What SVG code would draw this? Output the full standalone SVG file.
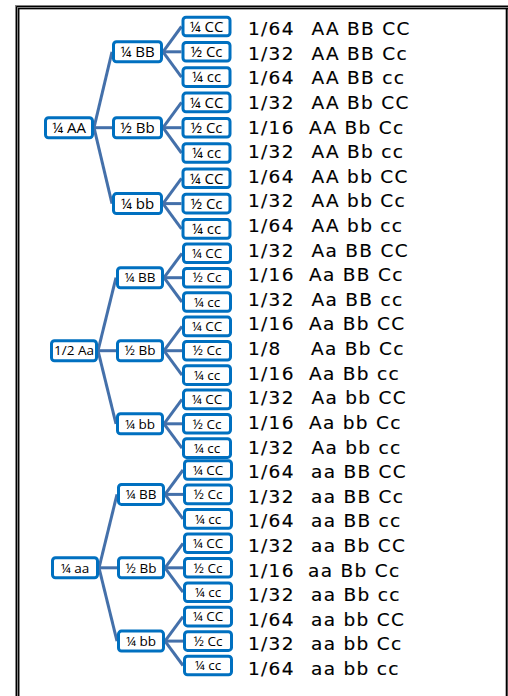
<svg xmlns="http://www.w3.org/2000/svg" width="508" height="696" viewBox="0 0 508 696">
<style>
.bx{fill:#fff;stroke:#0070c0;stroke-width:3}
.cn line{stroke:#4470aa;stroke-width:3;stroke-linecap:butt}
.la{font-family:"Open Sans","Lato",sans-serif;font-size:15px;fill:#000;text-anchor:middle}
.lb{font-family:"Open Sans","Lato",sans-serif;font-size:13.5px;fill:#000;text-anchor:middle}
.rt{font-family:"DejaVu Sans",sans-serif;font-size:18.5px;letter-spacing:1.3px;fill:#000;stroke:#000;stroke-width:0.15px}
</style>
<rect width="508" height="696" fill="#fff"/>
<g id="frame" fill="none">
<path d="M17.2,696 V7.2 H508" stroke="#808080" stroke-width="4.3"/>
<path d="M16.5,696 V6.5 H508" stroke="#000" stroke-width="1"/>
<path d="M18.7,696 V8.7 H508" stroke="#000" stroke-width="1.3"/>
<path d="M506.7,8 V696" stroke="#000" stroke-width="2"/>
</g>
<g id="connectors" class="cn">
<line x1="94" y1="127.7" x2="112" y2="51.8"/>
<line x1="94" y1="127.7" x2="112" y2="127.7"/>
<line x1="94" y1="127.7" x2="112" y2="203.6"/>
<line x1="163" y1="51.8" x2="181.5" y2="26.5"/>
<line x1="163" y1="51.8" x2="181.5" y2="51.8"/>
<line x1="163" y1="51.8" x2="181.5" y2="77.1"/>
<line x1="163" y1="127.7" x2="181.5" y2="102.4"/>
<line x1="163" y1="127.7" x2="181.5" y2="127.7"/>
<line x1="163" y1="127.7" x2="181.5" y2="153"/>
<line x1="163" y1="203.6" x2="181.5" y2="178.3"/>
<line x1="163" y1="203.6" x2="181.5" y2="203.6"/>
<line x1="163" y1="203.6" x2="181.5" y2="228.9"/>
<line x1="98" y1="350.7" x2="116" y2="277.7"/>
<line x1="98" y1="350.7" x2="116" y2="350.7"/>
<line x1="98" y1="350.7" x2="116" y2="423.8"/>
<line x1="164" y1="277.7" x2="182" y2="253.3"/>
<line x1="164" y1="277.7" x2="182" y2="277.7"/>
<line x1="164" y1="277.7" x2="182" y2="302"/>
<line x1="164" y1="350.7" x2="182" y2="326.4"/>
<line x1="164" y1="350.7" x2="182" y2="350.7"/>
<line x1="164" y1="350.7" x2="182" y2="375.1"/>
<line x1="164" y1="423.8" x2="182" y2="399.4"/>
<line x1="164" y1="423.8" x2="182" y2="423.8"/>
<line x1="164" y1="423.8" x2="182" y2="448.1"/>
<line x1="99" y1="567.8" x2="117" y2="494.4"/>
<line x1="99" y1="567.8" x2="117" y2="567.8"/>
<line x1="99" y1="567.8" x2="117" y2="641.1"/>
<line x1="165" y1="494.4" x2="183" y2="470"/>
<line x1="165" y1="494.4" x2="183" y2="494.4"/>
<line x1="165" y1="494.4" x2="183" y2="518.9"/>
<line x1="165" y1="567.8" x2="183" y2="543.3"/>
<line x1="165" y1="567.8" x2="183" y2="567.8"/>
<line x1="165" y1="567.8" x2="183" y2="592.2"/>
<line x1="165" y1="641.1" x2="183" y2="616.6"/>
<line x1="165" y1="641.1" x2="183" y2="641.1"/>
<line x1="165" y1="641.1" x2="183" y2="665.5"/>
</g>
<!-- Group AA -->
<g id="n-AA"><rect class="bx" x="45.5" y="117.7" width="47" height="20" rx="3"/><text class="la" x="69" y="132.9">¼ AA</text></g>
<g id="n-AA-BB"><rect class="bx" x="113.5" y="41.8" width="48" height="20" rx="3"/><text class="la" x="137.5" y="57">¼ BB</text></g>
<g id="n-AA-Bb"><rect class="bx" x="113.5" y="117.7" width="48" height="20" rx="3"/><text class="la" x="137.5" y="132.9">½ Bb</text></g>
<g id="n-AA-bb"><rect class="bx" x="113.5" y="193.6" width="48" height="20" rx="3"/><text class="la" x="137.5" y="208.8">¼ bb</text></g>
<g id="n-AA-BB-CC"><rect class="bx" x="183" y="17.2" width="47" height="18.6" rx="3"/><text class="la" x="206.5" y="31.7">¼ CC</text></g>
<g id="n-AA-BB-Cc"><rect class="bx" x="183" y="42.5" width="47" height="18.6" rx="3"/><text class="la" x="206.5" y="57">½ Cc</text></g>
<g id="n-AA-BB-cc"><rect class="bx" x="183" y="67.8" width="47" height="18.6" rx="3"/><text class="la" x="206.5" y="82.3">¼ cc</text></g>
<g id="n-AA-Bb-CC"><rect class="bx" x="183" y="93.1" width="47" height="18.6" rx="3"/><text class="la" x="206.5" y="107.6">¼ CC</text></g>
<g id="n-AA-Bb-Cc"><rect class="bx" x="183" y="118.4" width="47" height="18.6" rx="3"/><text class="la" x="206.5" y="132.9">½ Cc</text></g>
<g id="n-AA-Bb-cc"><rect class="bx" x="183" y="143.7" width="47" height="18.6" rx="3"/><text class="la" x="206.5" y="158.2">¼ cc</text></g>
<g id="n-AA-bb-CC"><rect class="bx" x="183" y="169" width="47" height="18.6" rx="3"/><text class="la" x="206.5" y="183.5">¼ CC</text></g>
<g id="n-AA-bb-Cc"><rect class="bx" x="183" y="194.3" width="47" height="18.6" rx="3"/><text class="la" x="206.5" y="208.8">½ Cc</text></g>
<g id="n-AA-bb-cc"><rect class="bx" x="183" y="219.6" width="47" height="18.6" rx="3"/><text class="la" x="206.5" y="234.1">¼ cc</text></g>
<!-- Group Aa -->
<g id="n-Aa"><rect class="bx" x="51.5" y="340.7" width="45" height="20" rx="3"/><text class="lb" x="74" y="355.4">1/2 Aa</text></g>
<g id="n-Aa-BB"><rect class="bx" x="117.5" y="267.7" width="45" height="20" rx="3"/><text class="lb" x="140" y="282.4">¼ BB</text></g>
<g id="n-Aa-Bb"><rect class="bx" x="117.5" y="340.7" width="45" height="20" rx="3"/><text class="lb" x="140" y="355.4">½ Bb</text></g>
<g id="n-Aa-bb"><rect class="bx" x="117.5" y="413.8" width="45" height="20" rx="3"/><text class="lb" x="140" y="428.5">¼ bb</text></g>
<g id="n-Aa-BB-CC"><rect class="bx" x="183.5" y="244" width="47" height="18.6" rx="3"/><text class="lb" x="207" y="258">¼ CC</text></g>
<g id="n-Aa-BB-Cc"><rect class="bx" x="183.5" y="268.4" width="47" height="18.6" rx="3"/><text class="lb" x="207" y="282.4">½ Cc</text></g>
<g id="n-Aa-BB-cc"><rect class="bx" x="183.5" y="292.7" width="47" height="18.6" rx="3"/><text class="lb" x="207" y="306.7">¼ cc</text></g>
<g id="n-Aa-Bb-CC"><rect class="bx" x="183.5" y="317.1" width="47" height="18.6" rx="3"/><text class="lb" x="207" y="331.1">¼ CC</text></g>
<g id="n-Aa-Bb-Cc"><rect class="bx" x="183.5" y="341.4" width="47" height="18.6" rx="3"/><text class="lb" x="207" y="355.4">½ Cc</text></g>
<g id="n-Aa-Bb-cc"><rect class="bx" x="183.5" y="365.8" width="47" height="18.6" rx="3"/><text class="lb" x="207" y="379.8">¼ cc</text></g>
<g id="n-Aa-bb-CC"><rect class="bx" x="183.5" y="390.1" width="47" height="18.6" rx="3"/><text class="lb" x="207" y="404.1">¼ CC</text></g>
<g id="n-Aa-bb-Cc"><rect class="bx" x="183.5" y="414.5" width="47" height="18.6" rx="3"/><text class="lb" x="207" y="428.5">½ Cc</text></g>
<g id="n-Aa-bb-cc"><rect class="bx" x="183.5" y="438.8" width="47" height="18.6" rx="3"/><text class="lb" x="207" y="452.8">¼ cc</text></g>
<!-- Group aa -->
<g id="n-aa"><rect class="bx" x="52.5" y="557.8" width="45" height="20" rx="3"/><text class="lb" x="75" y="572.5">¼ aa</text></g>
<g id="n-aa-BB"><rect class="bx" x="118.5" y="484.4" width="45" height="20" rx="3"/><text class="lb" x="141" y="499.1">¼ BB</text></g>
<g id="n-aa-Bb"><rect class="bx" x="118.5" y="557.8" width="45" height="20" rx="3"/><text class="lb" x="141" y="572.5">½ Bb</text></g>
<g id="n-aa-bb"><rect class="bx" x="118.5" y="631.1" width="45" height="20" rx="3"/><text class="lb" x="141" y="645.8">¼ bb</text></g>
<g id="n-aa-BB-CC"><rect class="bx" x="184.5" y="460.7" width="47" height="18.6" rx="3"/><text class="lb" x="208" y="474.7">¼ CC</text></g>
<g id="n-aa-BB-Cc"><rect class="bx" x="184.5" y="485.1" width="47" height="18.6" rx="3"/><text class="lb" x="208" y="499.1">½ Cc</text></g>
<g id="n-aa-BB-cc"><rect class="bx" x="184.5" y="509.6" width="47" height="18.6" rx="3"/><text class="lb" x="208" y="523.6">¼ cc</text></g>
<g id="n-aa-Bb-CC"><rect class="bx" x="184.5" y="534" width="47" height="18.6" rx="3"/><text class="lb" x="208" y="548">¼ CC</text></g>
<g id="n-aa-Bb-Cc"><rect class="bx" x="184.5" y="558.5" width="47" height="18.6" rx="3"/><text class="lb" x="208" y="572.5">½ Cc</text></g>
<g id="n-aa-Bb-cc"><rect class="bx" x="184.5" y="582.9" width="47" height="18.6" rx="3"/><text class="lb" x="208" y="596.9">¼ cc</text></g>
<g id="n-aa-bb-CC"><rect class="bx" x="184.5" y="607.3" width="47" height="18.6" rx="3"/><text class="lb" x="208" y="621.3">¼ CC</text></g>
<g id="n-aa-bb-Cc"><rect class="bx" x="184.5" y="631.8" width="47" height="18.6" rx="3"/><text class="lb" x="208" y="645.8">½ Cc</text></g>
<g id="n-aa-bb-cc"><rect class="bx" x="184.5" y="656.2" width="47" height="18.6" rx="3"/><text class="lb" x="208" y="670.2">¼ cc</text></g>
<g id="results" class="rt">
<text x="248" y="35">1/64<tspan x="311.5">AA BB CC</tspan></text>
<text x="248" y="59.6">1/32<tspan x="311.5">AA BB Cc</tspan></text>
<text x="248" y="84.2">1/64<tspan x="311.5">AA BB cc</tspan></text>
<text x="248" y="108.8">1/32<tspan x="311.5">AA Bb CC</tspan></text>
<text x="248" y="133.5">1/16<tspan x="309">AA Bb Cc</tspan></text>
<text x="248" y="158.1">1/32<tspan x="311.5">AA Bb cc</tspan></text>
<text x="248" y="182.7">1/64<tspan x="311.5">AA bb CC</tspan></text>
<text x="248" y="207.3">1/32<tspan x="311.5">AA bb Cc</tspan></text>
<text x="248" y="231.9">1/64<tspan x="311.5">AA bb cc</tspan></text>
<text x="248" y="256.5">1/32<tspan x="311.5">Aa BB CC</tspan></text>
<text x="248" y="281.2">1/16<tspan x="309">Aa BB Cc</tspan></text>
<text x="248" y="305.8">1/32<tspan x="311.5">Aa BB cc</tspan></text>
<text x="248" y="330.4">1/16<tspan x="309">Aa Bb CC</tspan></text>
<text x="248" y="355">1/8<tspan x="311">Aa Bb Cc</tspan></text>
<text x="248" y="379.6">1/16<tspan x="309">Aa Bb cc</tspan></text>
<text x="248" y="404.2">1/32<tspan x="311.5">Aa bb CC</tspan></text>
<text x="248" y="428.8">1/16<tspan x="309">Aa bb Cc</tspan></text>
<text x="248" y="453.5">1/32<tspan x="311.5">Aa bb cc</tspan></text>
<text x="248" y="478.1">1/64<tspan x="311">aa BB CC</tspan></text>
<text x="248" y="502.7">1/32<tspan x="311">aa BB Cc</tspan></text>
<text x="248" y="527.3">1/64<tspan x="311">aa BB cc</tspan></text>
<text x="248" y="551.9">1/32<tspan x="311">aa Bb CC</tspan></text>
<text x="248" y="576.5">1/16<tspan x="308">aa Bb Cc</tspan></text>
<text x="248" y="601.2">1/32<tspan x="311">aa Bb cc</tspan></text>
<text x="248" y="625.8">1/64<tspan x="311">aa bb CC</tspan></text>
<text x="248" y="650.4">1/32<tspan x="311">aa bb Cc</tspan></text>
<text x="248" y="675">1/64<tspan x="311">aa bb cc</tspan></text>
</g>
</svg>
